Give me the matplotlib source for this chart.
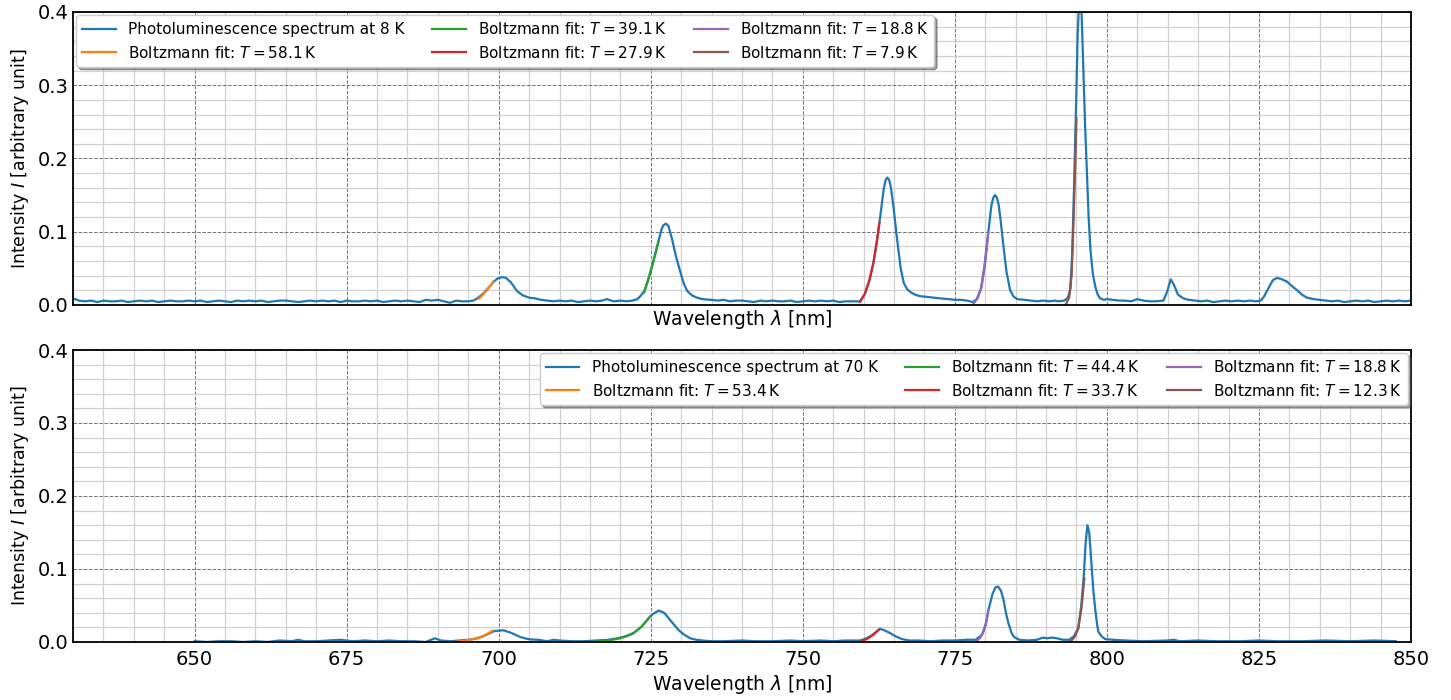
import numpy as np
from matplotlib import pyplot as plt
from matplotlib.ticker import MultipleLocator

# spectrum at 8 K: (wavelength nm, intensity)
top_points = [
    (630, 0.009), (631, 0.006), (632, 0.005), (633, 0.006), (634, 0.004), (635, 0.006),
    (636, 0.005), (637, 0.005), (638, 0.006), (639, 0.004), (640, 0.005), (641, 0.006),
    (642, 0.005), (643, 0.006), (644, 0.004), (645, 0.005), (646, 0.006), (647, 0.005),
    (648, 0.005), (649, 0.006), (650, 0.005), (651, 0.006), (652, 0.004), (653, 0.005),
    (654, 0.006), (655, 0.005), (656, 0.004), (657, 0.006), (658, 0.005), (659, 0.006),
    (660, 0.005), (661, 0.006), (662, 0.004), (663, 0.005), (664, 0.006), (665, 0.006),
    (666, 0.005), (667, 0.004), (668, 0.005), (669, 0.006), (670, 0.005), (671, 0.006),
    (672, 0.005), (673, 0.006), (674, 0.004), (675, 0.006), (676, 0.005), (677, 0.005),
    (678, 0.006), (679, 0.005), (680, 0.006), (681, 0.004), (682, 0.005), (683, 0.006),
    (684, 0.005), (685, 0.006), (686, 0.005), (687, 0.004), (688, 0.007), (689, 0.006),
    (690, 0.007), (691, 0.005), (692, 0.003), (693, 0.006), (694, 0.005), (695, 0.005),
    (695.8, 0.006), (696.5, 0.009), (697.5, 0.016), (698.5, 0.025), (699.2, 0.032),
    (699.8, 0.036), (700.5, 0.038), (701.2, 0.037), (702, 0.031), (703, 0.019),
    (704, 0.013), (705, 0.010), (706, 0.009), (707, 0.007), (708, 0.006), (709, 0.005),
    (710, 0.006), (711, 0.005), (712, 0.006), (713, 0.004), (714, 0.005), (715, 0.006),
    (716, 0.005), (717, 0.006), (717.8, 0.008), (718.5, 0.006), (719, 0.005),
    (720, 0.006), (721, 0.005), (722, 0.006), (722.8, 0.008), (723.4, 0.013),
    (724, 0.020), (724.8, 0.040), (725.5, 0.062), (726.2, 0.085), (726.8, 0.104),
    (727.1, 0.109), (727.5, 0.111), (727.9, 0.108), (728.5, 0.090), (729.1, 0.068),
    (729.8, 0.047), (730.4, 0.030), (731, 0.019), (731.8, 0.013), (732.6, 0.010),
    (733.5, 0.008), (735, 0.007), (736, 0.006), (737, 0.007), (738, 0.005), (739, 0.006),
    (740, 0.006), (741, 0.005), (742, 0.004), (743, 0.006), (744, 0.005), (745, 0.006),
    (746, 0.005), (747, 0.005), (748, 0.006), (749, 0.004), (750, 0.005), (751, 0.006),
    (752, 0.005), (753, 0.006), (754, 0.005), (755, 0.006), (756, 0.004), (757, 0.005),
    (758, 0.005), (759.4, 0.005), (760.2, 0.015), (761, 0.035), (761.6, 0.057),
    (762.2, 0.088), (762.8, 0.125), (763.3, 0.158), (763.6, 0.170), (763.9, 0.174),
    (764.2, 0.171), (764.5, 0.160), (764.9, 0.135), (765.5, 0.090), (766.1, 0.050),
    (766.6, 0.030), (767.2, 0.021), (767.8, 0.017), (768.5, 0.014), (769.3, 0.012),
    (770.5, 0.011), (771.5, 0.010), (772.6, 0.009), (774, 0.008), (775, 0.007),
    (776, 0.007), (777, 0.006), (778, 0.004), (778.6, 0.008), (779.3, 0.022),
    (779.9, 0.055), (780.5, 0.098), (781, 0.135), (781.3, 0.146), (781.6, 0.150),
    (781.9, 0.147), (782.2, 0.137), (782.5, 0.118), (783, 0.080), (783.5, 0.045),
    (784.1, 0.020), (784.7, 0.011), (785.3, 0.008), (786.5, 0.007), (787.5, 0.006),
    (788.5, 0.005), (789.5, 0.006), (790.5, 0.005), (791.5, 0.006), (792, 0.005),
    (793, 0.006), (793.6, 0.010), (794, 0.022), (794.3, 0.070), (794.6, 0.160),
    (794.9, 0.260), (795.2, 0.370), (795.5, 0.425), (795.8, 0.410), (796.1, 0.330),
    (796.4, 0.250), (796.7, 0.185), (797.0, 0.120), (797.3, 0.075), (797.7, 0.042),
    (798.1, 0.025), (798.5, 0.014), (798.9, 0.009), (799.5, 0.007), (800, 0.008),
    (801, 0.007), (802, 0.006), (803, 0.006), (804, 0.005), (805, 0.008), (806, 0.006),
    (807, 0.005), (808, 0.005), (809.3, 0.006), (809.9, 0.018), (810.5, 0.035),
    (811, 0.028), (811.7, 0.014), (812.6, 0.009), (813.5, 0.007), (814.5, 0.006),
    (815.5, 0.005), (816.5, 0.006), (817.5, 0.004), (818.5, 0.005), (819.5, 0.006),
    (820.5, 0.005), (821.5, 0.006), (822.5, 0.005), (823.5, 0.006), (824.5, 0.005),
    (825.3, 0.006), (825.8, 0.011), (826.5, 0.022), (827.3, 0.034), (828, 0.037),
    (828.8, 0.035), (829.6, 0.032), (830.4, 0.026), (831.3, 0.020), (832.1, 0.014),
    (832.9, 0.010), (834, 0.008), (835, 0.007), (836, 0.006), (837, 0.005), (838, 0.006),
    (839, 0.004), (840, 0.005), (841, 0.006), (842, 0.005), (843, 0.006), (844, 0.004),
    (845, 0.005), (846, 0.006), (847, 0.005), (848, 0.006), (849, 0.005), (850, 0.006),
]

# spectrum at 70 K
bot_points = [
    (650, 0.001), (652, 0.000), (654, 0.001), (656, 0.001), (658, 0.000), (660, 0.001),
    (662, 0.000), (664, 0.002), (666, 0.001), (667, 0.003), (668, 0.001), (670, 0.001),
    (672, 0.002), (674, 0.003), (675, 0.002), (676, 0.001), (678, 0.002), (680, 0.001),
    (682, 0.002), (684, 0.001), (686, 0.001), (688, 0.000), (689.5, 0.005), (690.5, 0.002),
    (692, 0.001), (693.5, 0.002), (695, 0.003), (696.5, 0.005), (697.5, 0.008),
    (698.5, 0.012), (699.3, 0.015), (700, 0.0155), (700.8, 0.016), (701.9, 0.013),
    (702.7, 0.010), (703.5, 0.007), (704.3, 0.005), (705.2, 0.0035), (706.5, 0.003),
    (708, 0.001), (709, 0.003), (710, 0.002), (712, 0.001), (714, 0.001), (716, 0.002),
    (718, 0.003), (719.5, 0.005), (721, 0.008), (722.3, 0.013), (723.5, 0.021),
    (724.5, 0.031), (725.3, 0.038), (726.3, 0.043), (727.2, 0.040), (728.2, 0.030),
    (729, 0.022), (729.6, 0.016), (730.5, 0.010), (731.5, 0.005), (732.5, 0.003),
    (733.5, 0.002), (735, 0.001), (737, 0.001), (740, 0.002), (742, 0.001), (745, 0.001),
    (748, 0.002), (750, 0.001), (753, 0.002), (755, 0.001), (757, 0.002), (758.5, 0.002),
    (759.4, 0.002), (760.5, 0.005), (761.5, 0.010), (762.2, 0.015), (762.7, 0.018),
    (763.4, 0.016), (764.4, 0.012), (765.2, 0.008), (766.3, 0.004), (767.5, 0.002),
    (769, 0.002), (771, 0.001), (773, 0.002), (775, 0.002), (777, 0.003), (778.4, 0.003),
    (779.5, 0.010), (780.1, 0.025), (780.6, 0.046), (781.2, 0.066), (781.7, 0.075),
    (782.1, 0.076), (782.6, 0.070), (783.0, 0.058), (783.4, 0.040), (783.8, 0.026),
    (784.3, 0.013), (784.7, 0.007), (785.6, 0.003), (787, 0.002), (788.5, 0.003),
    (789.5, 0.006), (790.2, 0.005), (791, 0.006), (791.8, 0.005), (792.8, 0.003),
    (793.8, 0.003), (794.6, 0.008), (795.3, 0.019), (795.8, 0.050), (796.2, 0.090),
    (796.5, 0.135), (796.8, 0.160), (797.1, 0.150), (797.5, 0.103), (797.8, 0.068),
    (798.1, 0.044), (798.4, 0.024), (798.6, 0.014), (799.1, 0.008), (799.7, 0.004),
    (801, 0.003), (803, 0.002), (806, 0.001), (810, 0.002), (811, 0.003), (812, 0.001),
    (815, 0.002), (818, 0.001), (822, 0.001), (825, 0.002), (828, 0.001), (832, 0.001),
    (836, 0.002), (840, 0.001), (844, 0.002), (847.5, 0.001),
]

# Boltzmann fit curves and their temperatures
top_T = [58.1, 39.1, 27.9, 18.8, 7.9]
top_fits = [
    [(696.8, 0.009), (697.4, 0.014), (698.0, 0.020), (698.6, 0.026), (699.1, 0.032)],
    [(723.9, 0.017), (724.5, 0.032), (725.1, 0.050), (725.7, 0.068), (726.3, 0.087)],
    [(759.4, 0.004), (760.2, 0.015), (760.9, 0.032), (761.6, 0.057), (762.1, 0.082),
     (762.6, 0.112)],
    [(778.1, 0.002), (778.8, 0.010), (779.4, 0.025), (779.9, 0.052), (780.5, 0.098)],
    [(793.2, 0.000), (793.8, 0.010), (794.2, 0.040), (794.5, 0.110), (794.8, 0.190),
     (795.0, 0.255)],
]

bot_T = [53.4, 44.4, 33.7, 18.8, 12.3]
bot_fits = [
    [(692.8, 0.000), (694.5, 0.002), (696.0, 0.004), (697.5, 0.008), (699.0, 0.0155)],
    [(715.6, 0.000), (718.0, 0.002), (720.0, 0.005), (722.0, 0.011), (723.5, 0.021),
     (724.9, 0.035)],
    [(759.4, 0.000), (760.5, 0.004), (761.5, 0.009), (762.6, 0.0174)],
    [(778.4, 0.000), (779.2, 0.006), (779.8, 0.016), (780.2, 0.028), (780.5, 0.044)],
    [(794.0, 0.000), (794.8, 0.008), (795.3, 0.019), (795.8, 0.045), (796.3, 0.087)],
]

fit_colors = ['C1', 'C2', 'C3', 'C4', 'C5']

fig = plt.figure(figsize=(14.51, 7.0), dpi=100)
ax1 = fig.add_axes([0.0503, 0.5643, 0.9221, 0.4186])
ax2 = fig.add_axes([0.0503, 0.0829, 0.9221, 0.4171])


def draw(ax, points, temp, fits, T, loc, ticklabels):
    wl, inten = np.array(points).T
    ax.plot(wl, inten, color='C0', lw=1.6,
            label='Photoluminescence spectrum at %d K' % temp)
    for fit, t, c in zip(fits, T, fit_colors):
        fw, fi = np.array(fit).T
        ax.plot(fw, fi, color=c, lw=1.6,
                label=r'Boltzmann fit: $T = %.1f\,\mathrm{K}$' % t)
    ax.set_xlim(630, 850)
    ax.set_ylim(0, 0.4)
    ax.xaxis.set_major_locator(MultipleLocator(25))
    ax.xaxis.set_minor_locator(MultipleLocator(5))
    ax.yaxis.set_major_locator(MultipleLocator(0.1))
    ax.yaxis.set_minor_locator(MultipleLocator(0.02))
    ax.grid(which='major', color='0.45', ls='--', lw=0.7)
    ax.grid(which='minor', color='0.82', ls='-', lw=0.9)
    ax.set_axisbelow(True)
    ax.tick_params(which='both', length=0, labelsize=14)
    ax.tick_params(axis='x', pad=6)
    ax.tick_params(axis='y', pad=3)
    for s in ax.spines.values():
        s.set_linewidth(1.3)
    if ticklabels:
        ax.set_xlabel(r'Wavelength $\lambda$ [nm]', fontsize=13.5, labelpad=3)
    else:
        ax.tick_params(axis='x', labelbottom=False)
        ax.set_xlabel(r'Wavelength $\lambda$ [nm]', fontsize=13.5, labelpad=-1.5)
    ax.set_ylabel(r'Intensity $I$ [arbitrary unit]', fontsize=12.5, labelpad=5)
    leg = ax.legend(loc=loc, ncol=3, fontsize=11,
                    shadow=True, fancybox=True, framealpha=1,
                    handlelength=2.2, columnspacing=1.8, borderaxespad=0.2)
    leg.get_frame().set_edgecolor('0.8')


draw(ax1, top_points, 8, top_fits, top_T, 'upper left', False)
draw(ax2, bot_points, 70, bot_fits, bot_T, 'upper right', True)

fig.savefig('out.png', dpi=100)
